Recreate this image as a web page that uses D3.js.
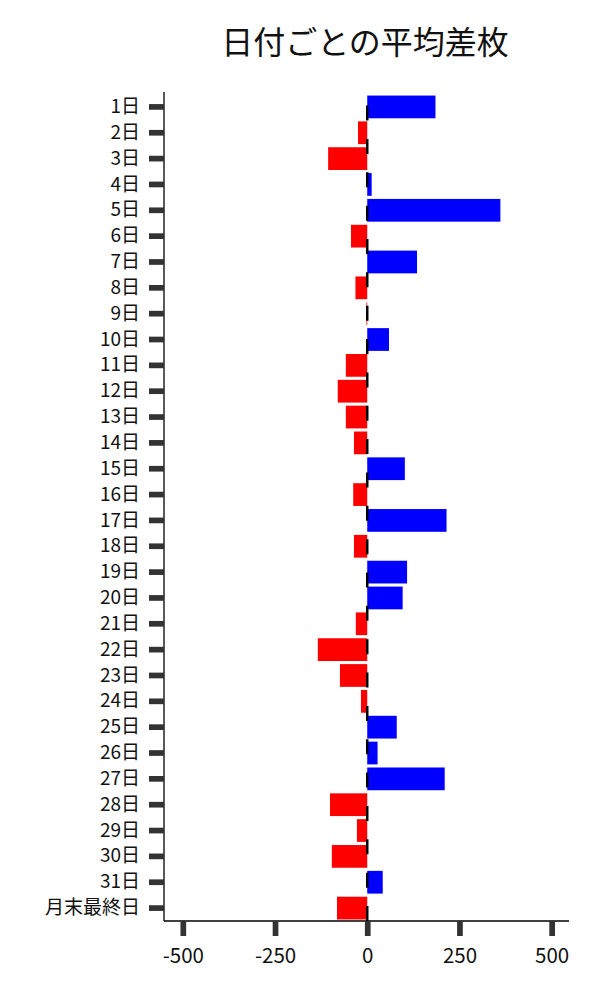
<!DOCTYPE html>
<html>
<head>
<meta charset="utf-8">
<script src="https://cdn.jsdelivr.net/npm/d3@7"></script>
<style>
  body { margin: 0; background: #fff; }
  text { font-family: "Noto Sans CJK JP", "Noto Sans", sans-serif; fill: #111; }
</style>
</head>
<body>
<script>
// data
var days = ["1日","2日","3日","4日","5日","6日","7日","8日","9日","10日",
  "11日","12日","13日","14日","15日","16日","17日","18日","19日","20日",
  "21日","22日","23日","24日","25日","26日","27日","28日","29日","30日",
  "31日","月末最終日"];
var diffs = [185, -25, -106, 12, 361, -44, 135, -32, -2, 59,
  -58, -80, -58, -36, 102, -38, 215, -36, 108, 96,
  -31, -134, -74, -17, 80, 28, 210, -101, -28, -96,
  42, -82];
var xTicks = [-500, -250, 0, 250, 500];
var title = "日付ごとの平均差枚";

var width = 600, height = 1000;
var plotLeft = 164, plotRight = 569, plotTop = 92, plotBottom = 921;

var svg = d3.select("body").append("svg")
    .attr("width", width)
    .attr("height", height);

// scales
var x = d3.scaleLinear().domain([-551, 547]).range([plotLeft, plotRight]);
var y = d3.scaleBand().domain(days).range([plotTop + 2, plotBottom])
    .paddingInner(0.12).paddingOuter(0.06);

// title
svg.append("text")
    .attr("x", 365)
    .attr("y", 54)
    .attr("text-anchor", "middle")
    .style("font-size", "32px")
    .text(title);

// bars
svg.append("g").selectAll("rect")
  .data(diffs)
  .enter().append("rect")
    .attr("x", function(d) { return x(Math.min(0, d)); })
    .attr("y", function(d, i) { return y(days[i]); })
    .attr("width", function(d) { return Math.abs(x(d) - x(0)); })
    .attr("height", y.bandwidth())
    .style("fill", function(d) { return d >= 0 ? "#0000ff" : "#ff0000"; });

// dashed zero line, drawn bottom to top
svg.append("line")
    .attr("x1", x(0)).attr("x2", x(0))
    .attr("y1", plotBottom).attr("y2", plotTop)
    .style("stroke", "#000")
    .style("stroke-width", 2.5)
    .style("stroke-dasharray", "15,18.35");

// y axis
var yAxis = svg.append("g")
    .attr("transform", "translate(" + plotLeft + ",0)")
    .call(d3.axisLeft(y).tickSize(15).tickPadding(9));
yAxis.select(".domain").attr("d", "M0," + plotTop + "V" + plotBottom)
    .style("stroke", "#000").style("stroke-width", 1.3);
yAxis.selectAll(".tick line").style("stroke", "#333").style("stroke-width", 5.7);
yAxis.selectAll(".tick text").style("font-size", "19px").attr("fill", "#111");

// x axis
var xAxis = svg.append("g")
    .attr("transform", "translate(0," + plotBottom + ")")
    .call(d3.axisBottom(x).tickValues(xTicks).tickSize(15).tickPadding(12)
      .tickFormat(function(d) { return String(d); }));
xAxis.select(".domain").attr("d", "M" + plotLeft + ",0H" + plotRight)
    .style("stroke", "#000").style("stroke-width", 1.3);
xAxis.selectAll(".tick line").style("stroke", "#333").style("stroke-width", 5.7);
xAxis.selectAll(".tick text").style("font-size", "20.5px").attr("fill", "#111");
</script>
</body>
</html>
